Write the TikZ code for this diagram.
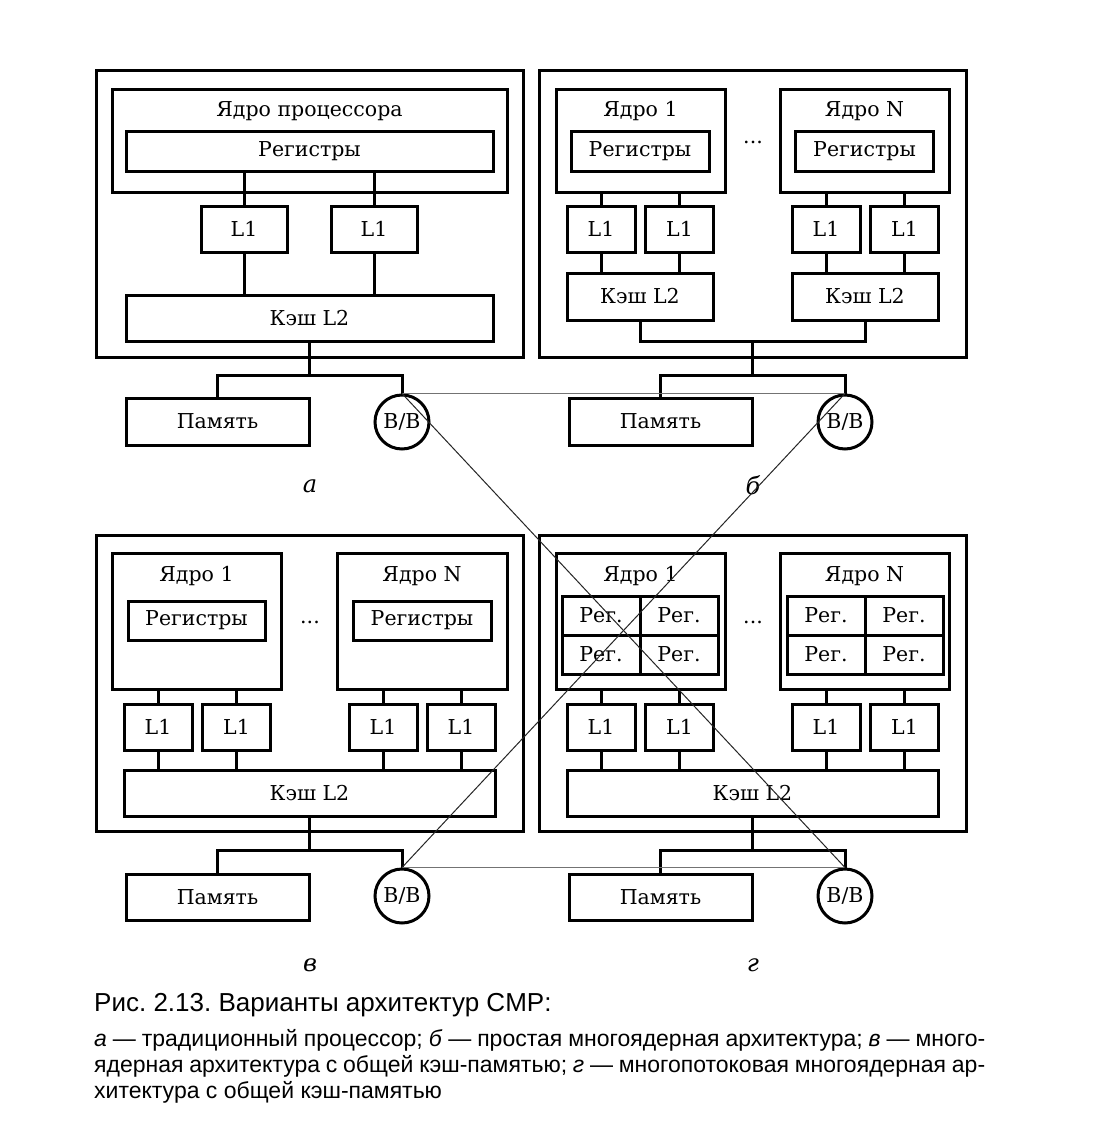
\documentclass[tikz,border=0pt]{standalone}
\usepackage{fontspec}
\setmainfont{DejaVu Serif}
\newfontfamily\capfont{Liberation Sans}
\newcommand\boxfont{\fontsize{20.5}{24}\selectfont}
\frenchspacing
\tikzset{
  blk/.style={draw,line width=3pt,inner sep=0pt,font=\boxfont},
  lbl/.style={inner sep=0pt,font=\boxfont},
  io/.style={draw,circle,line width=3pt,minimum size=54pt,inner sep=0pt,font=\boxfont},
  wire/.style={line width=3pt},
  link/.style={line width=1pt,black!85},
  hlink/.style={line width=0.8pt,black!55},
  sub/.style={inner sep=0pt,font=\fontsize{24}{26}\selectfont\itshape},
}
\begin{document}
\begin{tikzpicture}[x=1pt,y=-1pt]
        \path[use as bounding box,fill=white] (0,0) rectangle (1102,1145);
        % a
        \node[blk,minimum width=427pt,minimum height=286pt] (aBox) at (309.5,214) {};
        \node[blk,minimum width=395pt,minimum height=102pt] (aCore) at (309.5,141) {};
        \node[lbl,anchor=base] (aCoreT) at (309.5,117) {Ядро процессора};
        \node[blk,minimum width=367pt,minimum height=39pt] (aReg) at (309.5,151.5) {Регистры};
        \node[blk,minimum width=86pt,minimum height=46pt] (aL1a) at (244,229) {L1};
        \node[blk,minimum width=86pt,minimum height=46pt] (aL1b) at (374,229) {L1};
        \node[blk,minimum width=367pt,minimum height=46pt] (aL2) at (309.5,318) {Кэш L2};
        \node[blk,minimum width=183pt,minimum height=47pt] (aMem) at (217.5,421.5) {Память};
        \node[io] (aIO) at (402,422) {В/В};
        \coordinate (aBus) at (309.5,375);
        \draw[wire] (aReg.south -| aL1a) -- (aL1a.north);
        \draw[wire] (aReg.south -| aL1b) -- (aL1b.north);
        \draw[wire] (aL1a.south) -- (aL1a.south |- aL2.north);
        \draw[wire] (aL1b.south) -- (aL1b.south |- aL2.north);
        \draw[wire] (aL2.south) -- (aBus);
        \draw[wire] (aMem.north) |- (aBus) -| (aIO.north);
        \node[sub,anchor=base] (aSub) at (310,492) {а};
        % b
        \node[blk,minimum width=427pt,minimum height=286pt] (bBox) at (752.5,214) {};
        \node[blk,minimum width=169pt,minimum height=102pt] (bCore1) at (640.5,141) {};
        \node[lbl,anchor=base] (bCore1T) at (640.5,117) {Ядро 1};
        \node[blk,minimum width=138pt,minimum height=39pt] (bReg1) at (640,151.5) {Регистры};
        \node[blk,minimum width=169pt,minimum height=102pt] (bCoreN) at (864.5,141) {};
        \node[lbl,anchor=base] (bCoreNT) at (864.5,117) {Ядро N};
        \node[blk,minimum width=138pt,minimum height=39pt] (bRegN) at (864.5,151.5) {Регистры};
        \node[lbl,anchor=base] (bDots) at (753,143) {...};
        \node[blk,minimum width=68pt,minimum height=46pt] (bL1a) at (601,229) {L1};
        \node[blk,minimum width=68pt,minimum height=46pt] (bL1b) at (679.5,229) {L1};
        \node[blk,minimum width=68pt,minimum height=46pt] (bL1c) at (826,229) {L1};
        \node[blk,minimum width=68pt,minimum height=46pt] (bL1d) at (904.5,229) {L1};
        \node[blk,minimum width=146pt,minimum height=47pt] (bL2a) at (640,296.5) {Кэш L2};
        \node[blk,minimum width=146pt,minimum height=47pt] (bL2b) at (865,296.5) {Кэш L2};
        \node[blk,minimum width=183pt,minimum height=47pt] (bMem) at (660.5,421.5) {Память};
        \node[io] (bIO) at (845,422) {В/В};
        \coordinate (bJoin) at (752.5,341);
        \coordinate (bBus) at (752.5,375);
        \draw[wire] (bCore1.south -| bL1a) -- (bL1a.north);
        \draw[wire] (bCore1.south -| bL1b) -- (bL1b.north);
        \draw[wire] (bCoreN.south -| bL1c) -- (bL1c.north);
        \draw[wire] (bCoreN.south -| bL1d) -- (bL1d.north);
        \draw[wire] (bL1a.south) -- (bL1a.south |- bL2a.north);
        \draw[wire] (bL1b.south) -- (bL1b.south |- bL2a.north);
        \draw[wire] (bL1c.south) -- (bL1c.south |- bL2b.north);
        \draw[wire] (bL1d.south) -- (bL1d.south |- bL2b.north);
        \draw[wire] (bL2a.south) |- (bJoin) -| (bL2b.south);
        \draw[wire] (bJoin) -- (bBus);
        \draw[wire] (bMem.north) |- (bBus) -| (bIO.north);
        \node[sub,anchor=base] (bSub) at (753,494) {б};
        % c
        \node[blk,minimum width=427pt,minimum height=296pt] (cBox) at (309.5,683) {};
        \node[blk,minimum width=169pt,minimum height=136pt] (cCore1) at (196.5,621) {};
        \node[lbl,anchor=base] (cCore1T) at (196.5,581) {Ядро 1};
        \node[blk,minimum width=137pt,minimum height=39pt] (cReg1) at (196.5,620.5) {Регистры};
        \node[blk,minimum width=170pt,minimum height=136pt] (cCoreN) at (422,621) {};
        \node[lbl,anchor=base] (cCoreNT) at (422,581) {Ядро N};
        \node[blk,minimum width=138pt,minimum height=39pt] (cRegN) at (422,620.5) {Регистры};
        \node[lbl,anchor=base] (cDots) at (310,623) {...};
        \node[blk,minimum width=68pt,minimum height=46pt] (cL1a) at (158,727) {L1};
        \node[blk,minimum width=68pt,minimum height=46pt] (cL1b) at (236.5,727) {L1};
        \node[blk,minimum width=68pt,minimum height=46pt] (cL1c) at (383,727) {L1};
        \node[blk,minimum width=68pt,minimum height=46pt] (cL1d) at (461,727) {L1};
        \node[blk,minimum width=371pt,minimum height=46pt] (cL2) at (309.5,793) {Кэш L2};
        \node[blk,minimum width=183pt,minimum height=46pt] (cMem) at (217.5,897) {Память};
        \node[io] (cIO) at (402,896) {В/В};
        \coordinate (cBus) at (309.5,850);
        \draw[wire] (cCore1.south -| cL1a) -- (cL1a.north);
        \draw[wire] (cCore1.south -| cL1b) -- (cL1b.north);
        \draw[wire] (cCoreN.south -| cL1c) -- (cL1c.north);
        \draw[wire] (cCoreN.south -| cL1d) -- (cL1d.north);
        \draw[wire] (cL1a.south) -- (cL1a.south |- cL2.north);
        \draw[wire] (cL1b.south) -- (cL1b.south |- cL2.north);
        \draw[wire] (cL1c.south) -- (cL1c.south |- cL2.north);
        \draw[wire] (cL1d.south) -- (cL1d.south |- cL2.north);
        \draw[wire] (cL2.south) -- (cBus);
        \draw[wire] (cMem.north) |- (cBus) -| (cIO.north);
        \node[sub,anchor=base] (cSub) at (310,971) {в};
        % d
        \node[blk,minimum width=427pt,minimum height=296pt] (dBox) at (752.5,683) {};
        \node[blk,minimum width=169pt,minimum height=136pt] (dCore1) at (640.5,621) {};
        \node[lbl,anchor=base] (dCore1T) at (640.5,581) {Ядро 1};
        \node[blk,minimum width=78pt,minimum height=39pt] (dR1a) at (601,615.5) {Рег.};
        \node[blk,minimum width=78pt,minimum height=39pt] (dR1b) at (679,615.5) {Рег.};
        \node[blk,minimum width=78pt,minimum height=39pt] (dR1c) at (601,654.5) {Рег.};
        \node[blk,minimum width=78pt,minimum height=39pt] (dR1d) at (679,654.5) {Рег.};
        \node[blk,minimum width=169pt,minimum height=136pt] (dCoreN) at (864.5,621) {};
        \node[lbl,anchor=base] (dCoreNT) at (864.5,581) {Ядро N};
        \node[blk,minimum width=78pt,minimum height=39pt] (dRNa) at (826,615.5) {Рег.};
        \node[blk,minimum width=78pt,minimum height=39pt] (dRNb) at (904,615.5) {Рег.};
        \node[blk,minimum width=78pt,minimum height=39pt] (dRNc) at (826,654.5) {Рег.};
        \node[blk,minimum width=78pt,minimum height=39pt] (dRNd) at (904,654.5) {Рег.};
        \node[lbl,anchor=base] (dDots) at (753,623) {...};
        \node[blk,minimum width=68pt,minimum height=46pt] (dL1a) at (601,727) {L1};
        \node[blk,minimum width=68pt,minimum height=46pt] (dL1b) at (679.5,727) {L1};
        \node[blk,minimum width=68pt,minimum height=46pt] (dL1c) at (826,727) {L1};
        \node[blk,minimum width=68pt,minimum height=46pt] (dL1d) at (904.5,727) {L1};
        \node[blk,minimum width=371pt,minimum height=46pt] (dL2) at (752.5,793) {Кэш L2};
        \node[blk,minimum width=183pt,minimum height=46pt] (dMem) at (660.5,897) {Память};
        \node[io] (dIO) at (845,896) {В/В};
        \coordinate (dBus) at (752.5,850);
        \draw[wire] (dCore1.south -| dL1a) -- (dL1a.north);
        \draw[wire] (dCore1.south -| dL1b) -- (dL1b.north);
        \draw[wire] (dCoreN.south -| dL1c) -- (dL1c.north);
        \draw[wire] (dCoreN.south -| dL1d) -- (dL1d.north);
        \draw[wire] (dL1a.south) -- (dL1a.south |- dL2.north);
        \draw[wire] (dL1b.south) -- (dL1b.south |- dL2.north);
        \draw[wire] (dL1c.south) -- (dL1c.south |- dL2.north);
        \draw[wire] (dL1d.south) -- (dL1d.south |- dL2.north);
        \draw[wire] (dL2.south) -- (dBus);
        \draw[wire] (dMem.north) |- (dBus) -| (dIO.north);
        \node[sub,anchor=base] (dSub) at (753,971) {г};
        % I/O links
        \draw[hlink] (aIO.north) -- (bIO.north);
        \draw[hlink] (cIO.north) -- (dIO.north);
        \draw[link] (aIO.north) -- (dIO.north);
        \draw[link] (bIO.north) -- (cIO.north);
        % caption
        \node[inner sep=0pt,anchor=base west,font=\capfont\fontsize{26}{28}\selectfont] (capT) at (94,1011) {Рис. 2.13. Варианты архитектур CMP:};
        \node[inner sep=0pt,anchor=base west,font=\capfont\fontsize{23}{26}\selectfont] (capA) at (94,1046) {\makebox[891pt][s]{\textit{а} — традиционный процессор; \textit{б} — простая многоядерная архитектура; \textit{в} — много-}};
        \node[inner sep=0pt,anchor=base west,font=\capfont\fontsize{23}{26}\selectfont] (capB) at (94,1072) {\makebox[891pt][s]{ядерная архитектура с общей кэш-памятью; \textit{г} — многопотоковая многоядерная ар-}};
        \node[inner sep=0pt,anchor=base west,font=\capfont\fontsize{23}{26}\selectfont] (capC) at (94,1098) {хитектура с общей кэш-памятью};
    \end{tikzpicture}
\end{document}
